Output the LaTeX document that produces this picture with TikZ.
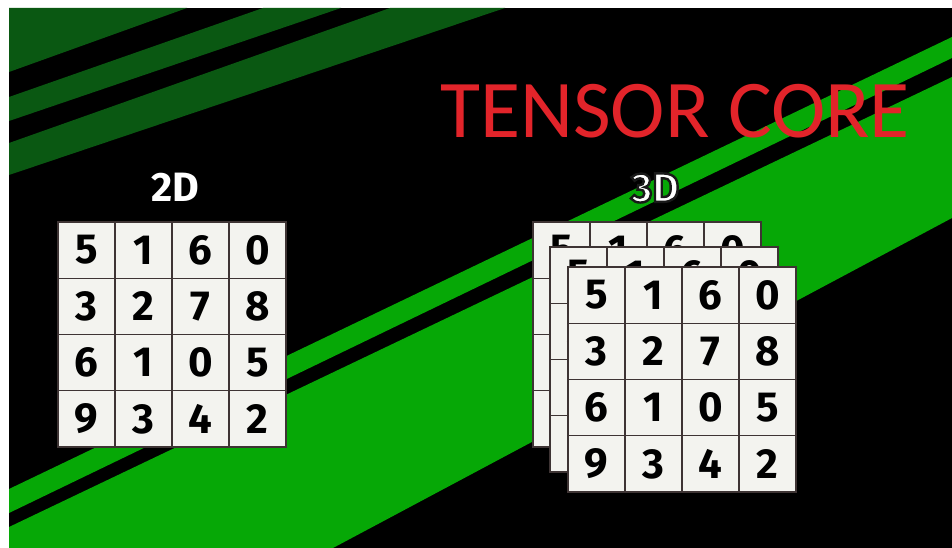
\documentclass[tikz,border=0pt]{standalone}
\usepackage{fontspec}
\setmainfont{Carlito}
\newfontfamily\digitfont{Fira Sans}
\definecolor{darkg}{RGB}{10,88,18}
\definecolor{brightg}{RGB}{6,168,6}
\definecolor{titlered}{RGB}{226,36,42}
\definecolor{cellfill}{RGB}{243,243,239}
\definecolor{gridline}{RGB}{62,52,52}
\tikzset{
  cell/.style={draw=gridline, line width=1.3pt, fill=cellfill,
    minimum width=57pt, minimum height=56.25pt, inner sep=0pt,
    font=\digitfont\bfseries\fontsize{42}{42}\selectfont, text=black},
  dimlabel/.style={inner sep=0pt, text=white, font=\digitfont\bfseries\fontsize{41}{41}\selectfont},
  title/.style={inner sep=0pt, anchor=base west, text=titlered,
    font=\fontsize{82}{82}\selectfont}
}
\newcommand\outlinedtext[1]{\special{pdf:literal q 2 Tr 2.4 w 0.1 0.1 0.1 RG}#1\special{pdf:literal Q}}
% #1 name prefix, #2 x0, #3 y0, #4 = 1 for a full grid, 0 for a grid mostly hidden behind another
\newcommand\drawgrid[4]{%
  \foreach \row [count=\r from 0] in {{5,1,6,0},{3,2,7,8},{6,1,0,5},{9,3,4,2}} {
    \foreach \d [count=\c from 0] in \row {
      \node[cell] (#1-\r-\c) at ({#2+57*(\c+0.5)},{#3+56.25*(\r+0.5)})
        {\ifnum#4=1 \d\else\ifnum\r=0 \d\else\ifnum\c=0 \d\fi\fi\fi};
    }
  }
}
\begin{document}
\begin{tikzpicture}[x=1pt,y=-1pt]
\useasboundingbox (0,0) rectangle (952,548);
\fill[white] (0,0) rectangle (952,548);
\fill[black] (9,8) rectangle (952,548);
% dark green stripes (upper left)
\fill[darkg] (9,8) -- (187,8) -- (9,72) -- cycle;
\fill[darkg] (263,8) -- (341,8) -- (9,121) -- (9,97) -- cycle;
\fill[darkg] (390,8) -- (505,8) -- (9,175) -- (9,143) -- cycle;
% bright green stripes
\fill[brightg] (9,489) -- (952,37) -- (952,58) -- (9,513) -- cycle;
\fill[brightg] (9,527) -- (952,77) -- (952,218) -- (333,548) -- (9,548) -- cycle;
% title
\node[title] (title) at (440,138) {TENSOR CORE};
% labels
\node[dimlabel] (lab2d) at (175,187) {2D};
\node[dimlabel] (lab3d) at (655,188) {\outlinedtext{3D}};
% 2D grid
\drawgrid{two}{58}{222}{1}
% 3D stacked grids
\drawgrid{back}{533}{222}{0}
\drawgrid{mid}{550}{247}{0}
\drawgrid{front}{568}{267}{1}
\end{tikzpicture}
\end{document}
